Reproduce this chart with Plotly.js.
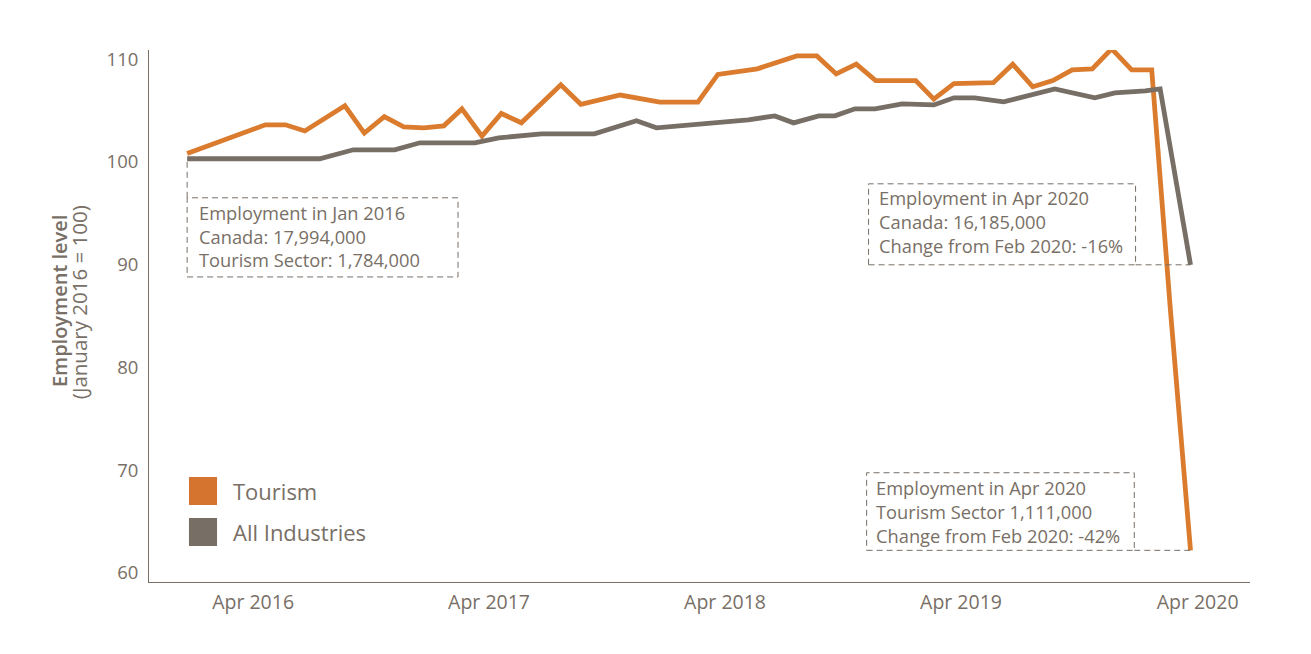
<!DOCTYPE html>
<html>
<head>
<meta charset="utf-8">
<script src="https://cdn.plot.ly/plotly-3.0.1.min.js"></script>
<style>html,body{margin:0;padding:0;background:#fff;}#chart{width:1311px;height:654px;}</style>
</head>
<body>
<div id="chart"></div>
<script>
// ---- Data ----
const seriesNames = ['Tourism', 'All Industries'];

const tourismDates = ['2016-01-01','2016-05-01','2016-06-01','2016-07-01','2016-09-01','2016-10-01','2016-11-01','2016-12-01',
  '2017-01-01','2017-02-01','2017-03-01','2017-04-01','2017-05-01','2017-06-01','2017-08-01','2017-09-01','2017-11-01',
  '2018-01-01','2018-03-01','2018-04-01','2018-06-01','2018-08-01','2018-09-01','2018-10-01','2018-11-01','2018-12-01',
  '2019-01-01','2019-02-01','2019-03-01','2019-04-01','2019-05-01','2019-06-01','2019-07-01','2019-08-01','2019-09-01',
  '2019-10-01','2019-11-01','2019-12-01','2020-01-01','2020-02-01','2020-03-01','2020-04-01'];
const tourismValues = [100.8,103.6,103.6,103.0,105.45,102.8,104.4,103.4,
  103.3,103.5,105.15,102.5,104.7,103.8,107.5,105.6,106.5,
  105.8,105.8,108.5,109.05,110.3,110.3,108.55,109.5,107.9,
  107.9,107.9,106.1,107.6,107.65,107.7,109.5,107.3,107.9,
  108.95,109.05,111.0,108.95,108.95,85.5,62.2];

const allDates = ['2016-01-01','2016-07-24','2016-09-14','2016-11-17','2016-12-26','2017-03-21','2017-04-27','2017-07-02',
  '2017-09-22','2017-11-26','2017-12-27','2018-05-18','2018-06-28','2018-07-27','2018-09-04','2018-09-29','2018-10-30',
  '2018-11-30','2019-01-11','2019-02-21','2019-03-01','2019-04-01','2019-05-03','2019-06-17','2019-07-26','2019-09-04',
  '2019-11-05','2019-12-06','2020-01-22','2020-02-14','2020-04-01'];
const allValues = [100.3,100.3,101.17,101.17,101.85,101.85,102.33,102.72,
  102.72,103.99,103.31,104.09,104.47,103.79,104.47,104.47,105.16,
  105.16,105.64,105.64,105.54,106.23,106.23,105.84,106.42,107.1,
  106.23,106.71,106.91,107.1,89.98];

const xTickYears = [2016, 2017, 2018, 2019, 2020];
const xTickLabels = ['Apr 2016','Apr 2017','Apr 2018','Apr 2019','Apr 2020'];
const yTickValues = [60, 70, 80, 90, 100, 110];

const yTitleLines = ['Employment level', '(January 2016 = 100)'];
const box1Lines = ['Employment in Jan 2016', 'Canada: 17,994,000', 'Tourism Sector: 1,784,000'];
const box2Lines = ['Employment in Apr 2020', 'Canada: 16,185,000', 'Change from Feb 2020: -16%'];
const box3Lines = ['Employment in Apr 2020', 'Tourism Sector 1,111,000', 'Change from Feb 2020: -42%'];

// ---- Styling ----
const ORANGE = '#DA7B2E';
const GRAY = '#776E65';
const TEXT = '#786F66';
const FONT = 'Open Sans, sans-serif';
const dashStyle = '6px,4px';

const traces = [
  {x: tourismDates, y: tourismValues, type: 'scatter', mode: 'lines', name: seriesNames[0],
   line: {color: ORANGE, width: 4.8}, showlegend: false, hoverinfo: 'x+y'},
  {x: allDates, y: allValues, type: 'scatter', mode: 'lines', name: seriesNames[1],
   line: {color: GRAY, width: 4.8}, showlegend: false, hoverinfo: 'x+y'}
];

const lastDate = tourismDates[tourismDates.length - 1];
const tourismEnd = tourismValues[tourismValues.length - 1];
const allEnd = allValues[allValues.length - 1];

const dashLine = {color: TEXT, width: 1, dash: dashStyle};
const shapes = [
  // box 1 + connector up to the Jan 2016 point
  {type: 'rect', xref: 'x', yref: 'y', x0: allDates[0], x1: '2017-02-23', y0: 88.8, y1: 96.5, line: dashLine},
  {type: 'line', xref: 'x', yref: 'y', x0: allDates[0], x1: allDates[0], y0: 96.5, y1: allValues[0] - 0.3, line: dashLine},
  // box 2 (Canada) + connector to the Apr 2020 point
  {type: 'rect', xref: 'x', yref: 'y', x0: '2018-11-20', x1: '2020-01-07', y0: allEnd, y1: 97.86, line: dashLine},
  {type: 'line', xref: 'x', yref: 'y', x0: '2020-01-07', x1: lastDate, y0: allEnd, y1: allEnd, line: dashLine},
  // box 3 (Tourism) + connector
  {type: 'rect', xref: 'x', yref: 'y', x0: '2018-11-17', x1: '2020-01-05', y0: tourismEnd, y1: 69.75, line: dashLine},
  {type: 'line', xref: 'x', yref: 'y', x0: '2020-01-05', x1: lastDate, y0: tourismEnd, y1: tourismEnd, line: dashLine},
  // legend swatches
  {type: 'rect', xref: 'paper', yref: 'paper', x0: 0.0363, x1: 0.0618, y0: 0.1447, y1: 0.1974, line: {width: 0}, fillcolor: '#D4742F'},
  {type: 'rect', xref: 'paper', yref: 'paper', x0: 0.0363, x1: 0.0618, y0: 0.0677, y1: 0.1203, line: {width: 0}, fillcolor: GRAY}
];

const annotations = [];
function addBox(lines, xLeft, xshift, yVals) {
  lines.forEach((t, i) => annotations.push({
    xref: 'x', yref: 'y', x: xLeft, y: yVals[i], xanchor: 'left', yanchor: 'middle',
    xshift: xshift, text: t, showarrow: false, font: {family: FONT, size: 18.3, color: TEXT}
  }));
}
addBox(box1Lines, allDates[0], 10, [95.1, 92.78, 90.45]);
addBox(box2Lines, '2018-11-20', 8, [96.55, 94.2, 91.87]);
addBox(box3Lines, '2018-11-17', 7, [68.33, 66.0, 63.66]);

// legend labels
annotations.push({xref: 'paper', yref: 'paper', x: 0.0745, y: 0.171, xanchor: 'left', yanchor: 'middle',
  text: seriesNames[0], showarrow: false, font: {family: FONT, size: 22, color: TEXT}});
annotations.push({xref: 'paper', yref: 'paper', x: 0.0745, y: 0.094, xanchor: 'left', yanchor: 'middle',
  text: seriesNames[1], showarrow: false, font: {family: FONT, size: 22, color: TEXT}});

// y axis title (two lines, drawn separately for exact spacing)
annotations.push({xref: 'paper', yref: 'paper', x: 0, y: 0.528, xanchor: 'center', yanchor: 'middle',
  xshift: -90, textangle: -90, showarrow: false, text: yTitleLines[0],
  font: {family: FONT, size: 20, color: TEXT, weight: 600}});
annotations.push({xref: 'paper', yref: 'paper', x: 0, y: 0.526, xanchor: 'center', yanchor: 'middle',
  xshift: -70, textangle: -90, showarrow: false, text: yTitleLines[1],
  font: {family: FONT, size: 20.5, color: TEXT}});

const layout = {
  width: 1311, height: 654,
  margin: {l: 149, r: 61, t: 50, b: 72, pad: 0},
  paper_bgcolor: '#ffffff', plot_bgcolor: '#ffffff',
  showlegend: false,
  xaxis: {
    type: 'date', range: ['2015-11-03', '2020-07-02'],
    tickvals: xTickYears.map(y => y + '-04-12'), ticktext: xTickLabels,
    showgrid: false, zeroline: false, showline: true, linecolor: TEXT, linewidth: 1,
    ticks: '', ticklabelstandoff: 3,
    tickfont: {family: FONT, size: 19.5, color: TEXT}
  },
  yaxis: {
    range: [59.12, 110.88], tickvals: yTickValues,
    showgrid: false, zeroline: false, showline: true, linecolor: TEXT, linewidth: 1,
    ticks: '', ticklabelstandoff: 6,
    tickfont: {family: FONT, size: 18.5, color: TEXT}
  },
  shapes: shapes,
  annotations: annotations
};

Plotly.newPlot('chart', traces, layout, {displayModeBar: false, staticPlot: true});
</script>
</body>
</html>
